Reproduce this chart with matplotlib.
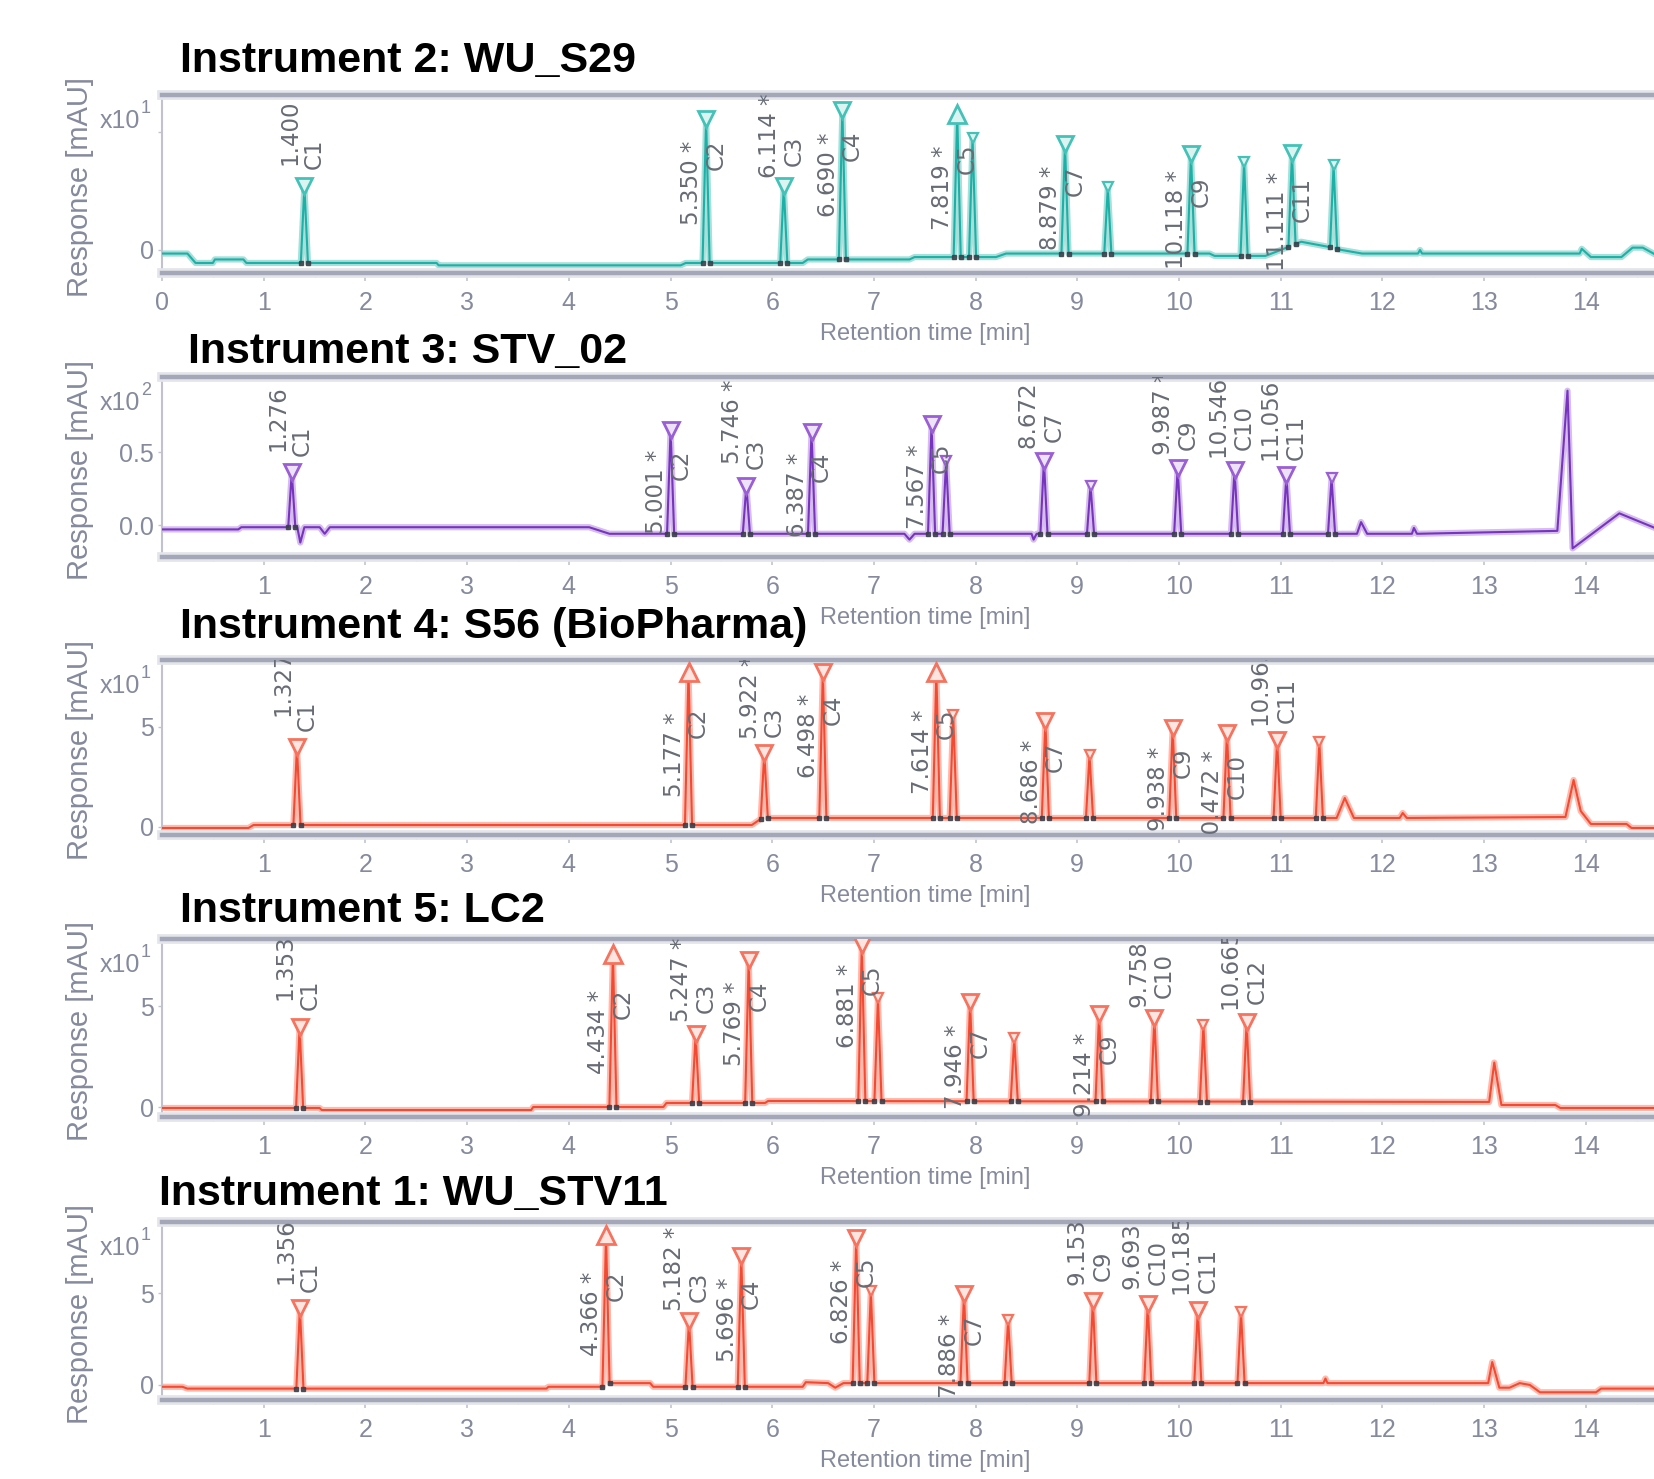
import numpy as np
import matplotlib
matplotlib.use("Agg")
import matplotlib.pyplot as plt
from matplotlib import font_manager
import matplotlib.patheffects as pe

nan = np.nan

# ---- data: baselines (time, response) and integrated peaks ----
# Instrument 2: WU_S29  (x10^1 mAU)
base_t1 = [0, 0.25, 0.33, 0.5, 0.52, 0.8, 0.83, 2.7, 2.72, 5.1, 5.15, 6.3, 6.35, 7.35, 7.4, 8.2, 8.3,
           10.3, 10.35, 10.85, 11.0, 11.2, 11.45, 11.6, 11.8, 12.35, 12.37, 12.39, 13.94, 13.96, 14.05,
           14.35, 14.46, 14.56, 14.75, 15]
base_y1 = [-0.03, -0.03, -0.11, -0.11, -0.08, -0.08, -0.11, -0.11, -0.13, -0.13, -0.11, -0.11, -0.08,
           -0.08, -0.06, -0.06, -0.03, -0.03, -0.05, -0.05, 0.0, 0.07, 0.03, 0.0, -0.03, -0.03, 0.0,
           -0.03, -0.03, 0.01, -0.06, -0.06, 0.02, 0.02, -0.07, -0.07]
times1 = [1.400, 5.350, 6.114, 6.690, 7.819, 7.97, 8.879, 9.30, 10.118, 10.64, 11.111, 11.52]
heights1 = [0.54, 1.11, 0.54, 1.19, 1.15, 0.95, 0.90, 0.53, 0.81, 0.75, 0.82, 0.72]
marks1 = ['v', 'v', 'v', 'v', '^', 'vs', 'v', 'vs', 'v', 'vs', 'v', 'vs']
rt1 = ['1.400', '5.350 *', '6.114 *', '6.690 *', '7.819 *', '', '8.879 *', '', '10.118 *', '', '11.111 *', '']
names1 = ['C1', 'C2', 'C3', 'C4', 'C5', '', 'C7', '', 'C9', '', 'C11', '']
rt_y1 = [1.0, 0.57, 0.97, 0.64, 0.53, nan, 0.36, nan, 0.26, nan, 0.24, nan]
name_y1 = [0.82, 0.81, 0.84, 0.88, 0.77, nan, 0.59, nan, 0.49, nan, 0.43, nan]

# Instrument 3: STV_02  (x10^2 mAU)
base_t2 = [0, 0.75, 0.78, 1.33, 1.36, 1.4, 1.55, 1.6, 1.65, 4.2, 4.4, 7.3, 7.35, 7.4, 8.55, 8.57, 8.6,
           11.75, 11.79, 11.85, 12.29, 12.31, 12.34, 13.72, 13.82, 13.87, 14.33, 14.68, 15]
base_y2 = [-0.03, -0.03, -0.015, -0.015, -0.12, -0.015, -0.015, -0.06, -0.015, -0.015, -0.06, -0.06,
           -0.1, -0.06, -0.06, -0.1, -0.06, -0.06, 0.02, -0.06, -0.06, -0.02, -0.06, -0.04, 0.92,
           -0.16, 0.08, -0.02, -0.05]
times2 = [1.276, 5.001, 5.746, 6.387, 7.567, 7.71, 8.672, 9.13, 9.987, 10.546, 11.056, 11.50]
heights2 = [0.36, 0.65, 0.27, 0.64, 0.69, 0.44, 0.44, 0.27, 0.39, 0.38, 0.34, 0.32]
marks2 = ['v', 'v', 'v', 'v', 'v', 'vs', 'v', 'vs', 'v', 'v', 'v', 'vs']
rt2 = ['1.276', '5.001 *', '5.746 *', '6.387 *', '7.567 *', '', '8.672 *', '', '9.987 *', '10.546 *', '11.056 *', '']
names2 = ['C1', 'C2', 'C3', 'C4', 'C5', '', 'C7', '', 'C9', 'C10', 'C11', '']
rt_y2 = [0.73, 0.23, 0.71, 0.21, 0.26, nan, 0.81, nan, 0.77, 0.79, 0.77, nan]
name_y2 = [0.58, 0.41, 0.49, 0.40, 0.46, nan, 0.67, nan, 0.62, 0.67, 0.60, nan]

# Instrument 4: S56 (BioPharma)  (x10^1 mAU)
base_t3 = [0, 0.85, 0.9, 5.8, 5.9, 11.55, 11.63, 11.72, 12.17, 12.2, 12.24, 13.8, 13.88, 13.95, 14.05,
           14.4, 14.45, 15]
base_y3 = [-0.05, -0.05, 0.1, 0.1, 0.45, 0.45, 1.45, 0.45, 0.45, 0.7, 0.45, 0.5, 2.35, 0.8, 0.15,
           0.15, -0.05, -0.05]
times3 = [1.327, 5.177, 5.922, 6.498, 7.614, 7.78, 8.686, 9.12, 9.938, 10.472, 10.965, 11.38]
heights3 = [4.0, 7.75, 3.7, 7.75, 7.75, 5.6, 5.3, 3.6, 4.95, 4.7, 4.35, 4.25]
marks3 = ['v', '^', 'v', 'v', '^', 'vs', 'v', 'vs', 'v', 'v', 'v', 'vs']
rt3 = ['1.327', '5.177 *', '5.922 *', '6.498 *', '7.614 *', '', '8.686 *', '', '9.938 *', '10.472 *', '10.965 *', '']
names3 = ['C1', 'C2', 'C3', 'C4', 'C5', '', 'C7', '', 'C9', 'C10', 'C11', '']
rt_y3 = [7.2, 3.6, 6.5, 4.55, 3.75, nan, 2.25, nan, 1.9, 1.35, 7.5, nan]
name_y3 = [5.55, 5.2, 5.25, 5.85, 5.15, nan, 3.5, nan, 3.2, 2.5, 6.35, nan]

# Instrument 5: LC2  (x10^1 mAU)
base_t4 = [0, 1.55, 1.57, 2.0, 3.63, 3.65, 4.93, 4.96, 5.93, 5.96, 13.05, 13.1, 13.17, 13.7, 13.75, 15]
base_y4 = [-0.05, -0.05, -0.15, -0.15, -0.15, 0.0, 0.0, 0.2, 0.2, 0.3, 0.25, 2.2, 0.1, 0.1, -0.05, -0.05]
times4 = [1.353, 4.434, 5.247, 5.769, 6.881, 7.04, 7.946, 8.38, 9.214, 9.758, 10.24, 10.665]
heights4 = [3.95, 7.6, 3.6, 7.3, 8.0, 5.4, 5.2, 3.4, 4.6, 4.4, 4.05, 4.2]
marks4 = ['v', '^', 'v', 'v', 'v', 'vs', 'v', 'vs', 'v', 'v', 'vs', 'v']
rt4 = ['1.353', '4.434 *', '5.247 *', '5.769 *', '6.881 *', '', '7.946 *', '', '9.214 *', '9.758 *', '', '10.665 *']
names4 = ['C1', 'C2', 'C3', 'C4', 'C5', '', 'C7', '', 'C9', 'C10', '', 'C12']
rt_y4 = [6.9, 3.7, 6.3, 4.15, 5.0, nan, 2.0, nan, 1.6, 7.0, nan, 7.2]
name_y4 = [5.55, 5.1, 5.4, 5.5, 6.3, nan, 3.2, nan, 2.9, 6.5, nan, 6.2]

# Instrument 1: WU_STV11  (x10^1 mAU)
base_t5 = [0, 0.2, 0.25, 3.78, 3.8, 4.35, 4.38, 4.8, 4.83, 6.3, 6.33, 6.55, 6.62, 6.7, 11.42, 11.44,
           11.46, 13.04, 13.08, 13.15, 13.25, 13.35, 13.45, 13.55, 14.1, 14.15, 15]
base_y5 = [-0.1, -0.1, -0.2, -0.2, -0.1, -0.1, 0.1, 0.1, -0.1, -0.1, 0.15, 0.1, -0.15, 0.1, 0.1, 0.35,
           0.1, 0.1, 1.25, -0.15, -0.15, 0.1, 0.0, -0.4, -0.4, -0.2, -0.2]
times5 = [1.356, 4.366, 5.182, 5.696, 6.826, 6.97, 7.886, 8.32, 9.153, 9.693, 10.185, 10.61]
heights5 = [4.2, 8.15, 3.5, 7.0, 8.0, 5.1, 4.95, 3.55, 4.6, 4.4, 4.1, 3.95]
marks5 = ['v', '^', 'v', 'v', 'v', 'vs', 'v', 'vs', 'v', 'v', 'v', 'vs']
rt5 = ['1.356', '4.366 *', '5.182 *', '5.696 *', '6.826 *', '', '7.886 *', '', '9.153 *', '9.693 *', '10.185 *', '']
names5 = ['C1', 'C2', 'C3', 'C4', 'C5', '', 'C7', '', 'C9', 'C10', 'C11', '']
rt_y5 = [7.3, 3.85, 6.35, 3.55, 4.55, nan, 1.6, nan, 7.7, 7.45, 7.55, nan]
name_y5 = [5.9, 5.4, 5.35, 4.95, 6.15, nan, 3.0, nan, 6.5, 6.7, 6.25, nan]

titles = ['Instrument 2: WU_S29', 'Instrument 3: STV_02', 'Instrument 4: S56 (BioPharma)',
          'Instrument 5: LC2', 'Instrument 1: WU_STV11']
exponents = ['1', '2', '1', '1', '1']

# ---- layout (pixels of the 1654x1479 canvas) ----
W, H = 1654, 1479
frame_px = [(95, 273), (377, 557), (660, 835), (939, 1117), (1222, 1400)]
title_px = [(180, 72), (188, 363), (180, 638), (180, 922), (159, 1205)]
ylims = [(-0.195, 1.314), (-0.219, 1.014), (-0.4, 8.35), (-0.495, 8.32), (-0.82, 8.88)]
yticks = [([0, 1], ['0', '']), ([0, 0.5, 1.0], ['0.0', '0.5', '']), ([0, 5], ['0', '5']),
          ([0, 5], ['0', '5']), ([0, 5], ['0', '5'])]

teal = dict(line='#1cb0a6', halo='#a8dfda', edge='#45c2b8', face='#dcf4f1')
purple = dict(line='#7634bf', halo='#d6bdec', edge='#9a5fd4', face='#eee2f8')
red = dict(line='#f24b33', halo='#ffbaae', edge='#f5735f', face='#ffe4df')
styles = [teal, purple, red, red, red]

avail = {f.name for f in font_manager.fontManager.ttflist}
narrow = 'Liberation Sans Narrow' if 'Liberation Sans Narrow' in avail else 'Liberation Sans'
plt.rcParams['font.family'] = [narrow, 'DejaVu Sans']

grey = '#858a9c'
labgrey = '#676b74'
tickcol = '#c2c5cf'
half_w = 0.035


def build_trace(bt, by, pt, ph):
    pts = list(zip(bt, by))
    for t, h in zip(pt, ph):
        pts = [p for p in pts if not (t - half_w < p[0] < t + half_w)]
        pts += [(t - half_w, np.interp(t - half_w, bt, by)), (t, h),
                (t + half_w, np.interp(t + half_w, bt, by))]
    pts.sort()
    return [p[0] for p in pts], [p[1] for p in pts]


panels = [
    (base_t1, base_y1, times1, heights1, marks1, rt1, names1, rt_y1, name_y1),
    (base_t2, base_y2, times2, heights2, marks2, rt2, names2, rt_y2, name_y2),
    (base_t3, base_y3, times3, heights3, marks3, rt3, names3, rt_y3, name_y3),
    (base_t4, base_y4, times4, heights4, marks4, rt4, names4, rt_y4, name_y4),
    (base_t5, base_y5, times5, heights5, marks5, rt5, names5, rt_y5, name_y5),
]

fig = plt.figure(figsize=(W / 100, H / 100), dpi=100)
ax_left = 162
ax_width = 15 * 101.7

for i, (bt, by, pt, ph, mk, rtl, nml, rty, nmy) in enumerate(panels):
    top, bot = frame_px[i]
    ax = fig.add_axes([ax_left / W, 1 - bot / H, ax_width / W, (bot - top) / H])
    st = styles[i]
    ax.set_xlim(0, 15)
    ax.set_ylim(*ylims[i])

    xs, ys = build_trace(bt, by, pt, ph)
    ax.plot(xs, ys, color=st['halo'], lw=4.5, solid_joinstyle='round', zorder=2)
    ax.plot(xs, ys, color=st['line'], lw=1.5, zorder=3)

    for t, h, m in zip(pt, ph, mk):
        if m == '^':
            ax.plot(t, h, marker='^', ms=13, mfc=st['face'], mec=st['edge'], mew=2, zorder=4)
        elif m == 'v':
            ax.plot(t, h, marker='v', ms=12, mfc=st['face'], mec=st['edge'], mew=2, zorder=4)
        else:
            ax.plot(t, h, marker='v', ms=7, mfc=st['face'], mec=st['edge'], mew=1.6, zorder=4)
        ax.plot([t - half_w, t + half_w],
                [np.interp(t - half_w, bt, by), np.interp(t + half_w, bt, by)],
                ls='none', marker='s', ms=3.5, color='#3a3f4a', alpha=0.85, zorder=5)

    for t, a, b, ya, yb in zip(pt, rtl, nml, rty, nmy):
        if a:
            ax.text(t - 0.14, ya, a, rotation=90, ha='center', va='center', fontsize=16.5,
                    family='DejaVu Sans', color=labgrey, clip_on=True, zorder=6)
        if b:
            ax.text(t + 0.10, yb, b, rotation=90, ha='center', va='center', fontsize=16.5,
                    family='DejaVu Sans', color=labgrey, clip_on=True, zorder=6)

    # frame
    for s in ['top', 'bottom']:
        ax.spines[s].set_linewidth(3.2)
        ax.spines[s].set_color('#a3a7b7')
        ax.spines[s].set_path_effects([pe.Stroke(linewidth=7, foreground='#e4e5eb'), pe.Normal()])
    ax.spines['left'].set_linewidth(1.5)
    ax.spines['left'].set_color('#c0c3cd')
    ax.spines['right'].set_visible(False)

    if i == 0:
        ax.set_xticks(range(0, 15))
    else:
        ax.set_xticks(range(1, 15))
    ax.set_xticks(np.arange(0.5, 15, 1.0), minor=True)
    ax.tick_params(axis='x', which='major', direction='out', length=6, width=1.2, color=tickcol,
                   labelsize=18, labelcolor=grey, pad=7)
    ax.tick_params(axis='x', which='minor', direction='out', length=3, width=1.0, color=tickcol)
    ax.set_yticks(yticks[i][0])
    ax.set_yticklabels(yticks[i][1])
    ax.tick_params(axis='y', direction='out', length=3, width=1.0, color=tickcol,
                   labelsize=18, labelcolor=grey, pad=3)

    ax.set_xlabel('Retention time [min]', fontsize=17, color=grey)
    ax.xaxis.set_label_coords(0.5, -50 / (bot - top))

    ax.annotate('x10', xy=(0, 1), xycoords='axes fraction', xytext=(-22, -33),
                textcoords='offset pixels', ha='right', va='baseline', fontsize=18, color=grey)
    ax.annotate(exponents[i], xy=(0, 1), xycoords='axes fraction', xytext=(-21, -18),
                textcoords='offset pixels', ha='left', va='baseline', fontsize=13, color=grey)

    fig.text(80 / W, 1 - ((top + bot) / 2 + 3) / H, 'Response [mAU]', rotation=90, ha='center',
             va='center', fontsize=21, color=grey)

    tx, ty = title_px[i]
    fig.text(tx / W, 1 - ty / H, titles[i], ha='left', va='baseline', fontsize=31,
             fontweight='bold', family='Liberation Sans', color='black')

fig.savefig('out.png', dpi=100, facecolor='white')
